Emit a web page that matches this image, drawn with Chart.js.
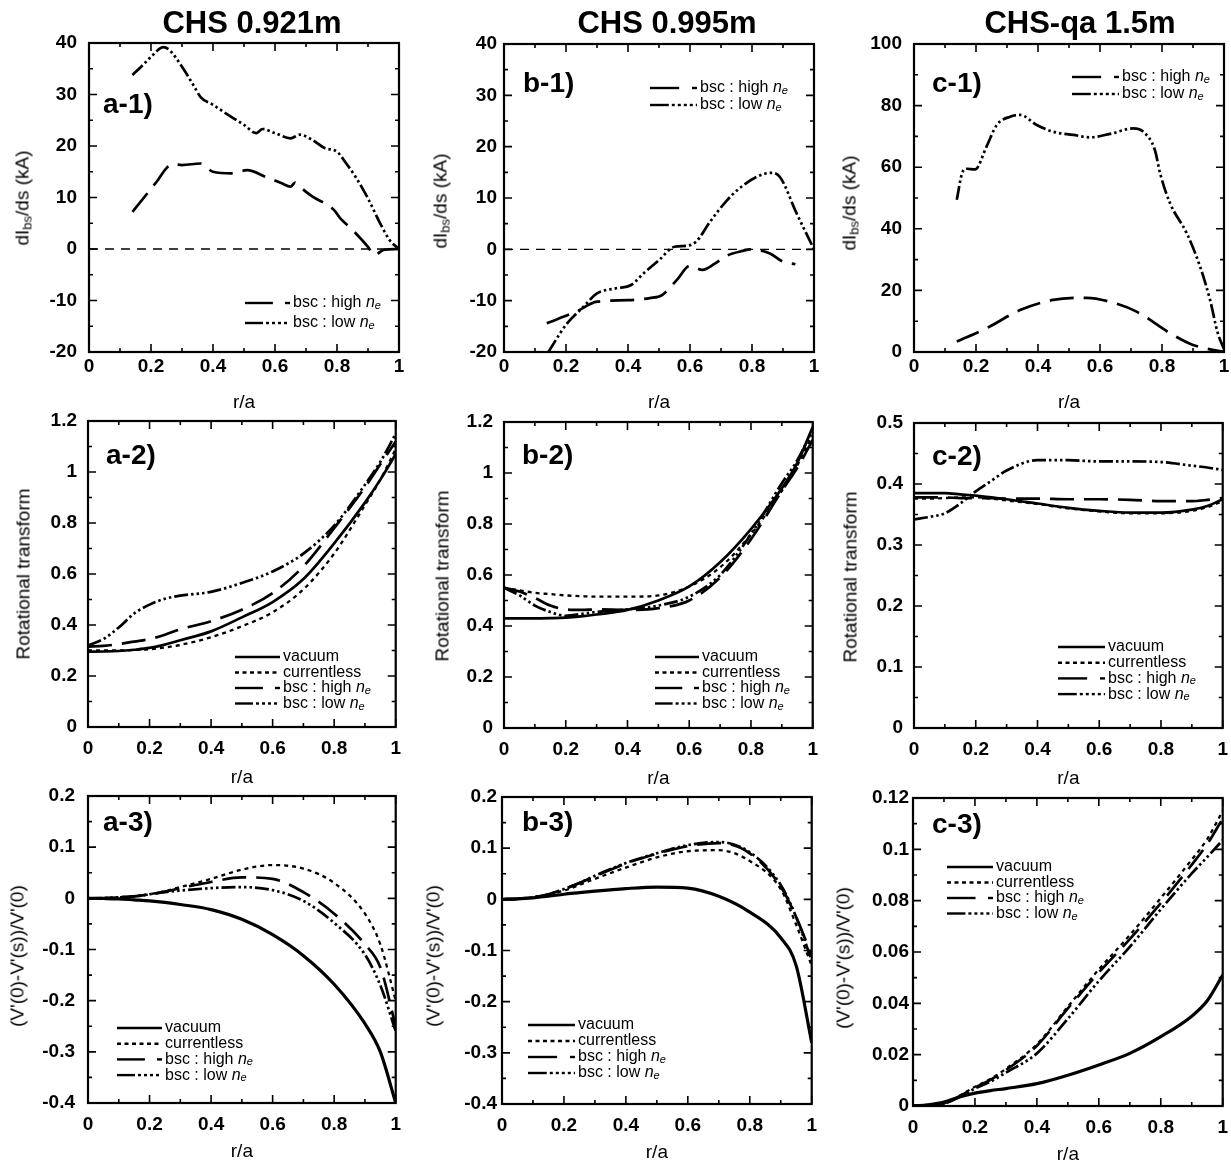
<!DOCTYPE html>
<html>
<head>
<meta charset="utf-8">
<script src="https://cdn.jsdelivr.net/npm/chart.js@4.4.1/dist/chart.umd.min.js"></script>
<style>
body { margin: 0; background: #fff; }
#page { position: relative; width: 1231px; height: 1164px; overflow: hidden;
        font-family: "Liberation Sans", Arial, sans-serif; color: #000; }
canvas { position: absolute; }
.txt { position: absolute; white-space: nowrap; transform: translate(-50%, -50%); line-height: 1; }
.col-title { font-weight: bold; font-size: 31px; }
.tag { font-weight: bold; font-size: 28px; transform: translate(0, -50%); }
.ytitle { font-size: 19px; transform: translate(-50%, -50%) rotate(-90deg); }
.ytitle sub { font-size: 13px; vertical-align: -3px; }
</style>
</head>
<body>
<div id="page"></div>
<script>
// ---- data ----
// row 1 : dIbs/ds (kA)
const a1HighX = [0.14, 0.18, 0.22, 0.25, 0.27, 0.30, 0.36, 0.40, 0.46, 0.51, 0.57, 0.62, 0.65, 0.665, 0.68, 0.72, 0.79, 0.81, 0.85, 0.90, 0.92, 0.95, 1.00];
const a1HighY = [7.2, 10.2, 13.2, 15.7, 16.5, 16.3, 16.6, 15.0, 14.7, 15.3, 14.0, 12.8, 12.1, 12.9, 12.1, 10.2, 7.6, 6.0, 3.7, 0.4, -1.2, -0.2, 0];
const a1LowX = [0.14, 0.17, 0.20, 0.24, 0.26, 0.30, 0.34, 0.36, 0.40, 0.45, 0.50, 0.54, 0.56, 0.60, 0.65, 0.68, 0.72, 0.76, 0.80, 0.83, 0.86, 0.90, 0.94, 0.97, 1.00];
const a1LowY = [33.8, 35.5, 37.3, 39.2, 38.6, 35.4, 31.5, 29.5, 28.0, 26.0, 24.1, 22.5, 23.3, 22.5, 21.5, 22.2, 21.2, 19.6, 18.9, 16.6, 14.0, 9.8, 4.9, 1.7, 0];

const b1HighX = [0.138, 0.234, 0.30, 0.40, 0.47, 0.51, 0.557, 0.60, 0.64, 0.68, 0.72, 0.77, 0.794, 0.858, 0.90, 0.94];
const b1HighY = [-14.4, -12.1, -10.2, -9.9, -9.5, -8.9, -6.0, -3.2, -4.0, -2.8, -1.2, -0.3, 0, -0.8, -2.4, -2.9];
const b1LowX = [0.143, 0.20, 0.256, 0.30, 0.36, 0.41, 0.45, 0.50, 0.55, 0.59, 0.62, 0.665, 0.72, 0.76, 0.815, 0.86, 0.89, 0.944, 1.00];
const b1LowY = [-20, -14.7, -11.2, -8.6, -7.6, -6.95, -4.7, -2.1, 0.5, 0.7, 1.5, 5.4, 9.6, 11.9, 14.1, 14.9, 14.1, 7.0, 0];

const c1HighX = [0.138, 0.234, 0.342, 0.449, 0.557, 0.632, 0.718, 0.826, 0.90, 1.00];
const c1HighY = [3.4, 7.7, 13.6, 16.9, 17.6, 16.3, 13.1, 6.1, 2.3, 0];
const c1LowX = [0.138, 0.155, 0.17, 0.197, 0.234, 0.267, 0.31, 0.342, 0.396, 0.449, 0.514, 0.568, 0.632, 0.708, 0.74, 0.777, 0.794, 0.826, 0.88, 0.923, 0.955, 0.98, 1.00];
const c1LowY = [49.4, 58.0, 59.5, 59.3, 66.7, 73.7, 76.4, 77.0, 73.7, 71.5, 70.5, 69.7, 70.8, 72.6, 71.5, 65.6, 58.0, 48.3, 38.5, 27.7, 16.9, 6.1, 1];

const zeroX = [0, 1];
const zeroY = [0, 0];

// rows 2 and 3 share one r/a grid
const rGrid = [0, 0.05, 0.1, 0.15, 0.2, 0.25, 0.3, 0.4, 0.5, 0.6, 0.7, 0.8, 0.9, 0.95, 1.0];

// row 2 : rotational transform
const a2Vacuum      = [0.295, 0.296, 0.298, 0.303, 0.31, 0.323, 0.34, 0.375, 0.43, 0.49, 0.58, 0.72, 0.88, 0.97, 1.07];
const a2Currentless = [0.30, 0.30, 0.30, 0.302, 0.305, 0.312, 0.322, 0.352, 0.395, 0.45, 0.54, 0.68, 0.87, 0.97, 1.09];
const a2High        = [0.315, 0.318, 0.325, 0.335, 0.345, 0.362, 0.383, 0.415, 0.46, 0.525, 0.63, 0.78, 0.94, 1.03, 1.12];
const a2Low         = [0.32, 0.345, 0.39, 0.445, 0.48, 0.503, 0.515, 0.53, 0.565, 0.61, 0.68, 0.79, 0.95, 1.04, 1.15];

const b2Vacuum      = [0.43, 0.43, 0.43, 0.431, 0.433, 0.438, 0.445, 0.463, 0.50, 0.555, 0.65, 0.78, 0.94, 1.04, 1.18];
const b2Currentless = [0.55, 0.54, 0.53, 0.525, 0.52, 0.517, 0.515, 0.515, 0.52, 0.555, 0.63, 0.76, 0.93, 1.03, 1.15];
const b2High        = [0.55, 0.535, 0.51, 0.48, 0.465, 0.463, 0.465, 0.463, 0.47, 0.50, 0.59, 0.74, 0.93, 1.02, 1.13];
const b2Low         = [0.55, 0.52, 0.48, 0.455, 0.44, 0.447, 0.455, 0.465, 0.48, 0.515, 0.60, 0.76, 0.96, 1.05, 1.17];

const c2Vacuum      = [0.385, 0.385, 0.385, 0.383, 0.381, 0.378, 0.375, 0.368, 0.361, 0.356, 0.353, 0.353, 0.358, 0.364, 0.375];
const c2Currentless = [0.376, 0.376, 0.377, 0.378, 0.378, 0.376, 0.373, 0.367, 0.36, 0.355, 0.352, 0.352, 0.356, 0.362, 0.372];
const c2High        = [0.378, 0.378, 0.378, 0.377, 0.377, 0.377, 0.376, 0.376, 0.375, 0.375, 0.374, 0.372, 0.372, 0.374, 0.377];
const c2Low         = [0.342, 0.346, 0.352, 0.368, 0.388, 0.405, 0.422, 0.439, 0.439, 0.437, 0.437, 0.436, 0.43, 0.427, 0.423];

// row 3 : (V'(0)-V'(s))/V'(0)
const a3Vacuum      = [0, -0.0003, -0.001, -0.003, -0.005, -0.008, -0.012, -0.022, -0.041, -0.071, -0.112, -0.168, -0.245, -0.30, -0.40];
const a3Currentless = [0, 0.0005, 0.002, 0.004, 0.008, 0.014, 0.022, 0.038, 0.056, 0.065, 0.058, 0.03, -0.03, -0.09, -0.20];
const a3High        = [0, 0.0005, 0.002, 0.004, 0.008, 0.013, 0.02, 0.032, 0.041, 0.038, 0.012, -0.03, -0.09, -0.135, -0.25];
const a3Low         = [0, 0.0005, 0.002, 0.004, 0.008, 0.012, 0.015, 0.02, 0.022, 0.016, -0.005, -0.048, -0.11, -0.17, -0.26];

const b3Vacuum      = [0, 0.001, 0.003, 0.006, 0.01, 0.013, 0.016, 0.021, 0.024, 0.022, 0.006, -0.025, -0.075, -0.13, -0.28];
const b3Currentless = [0, 0.001, 0.004, 0.009, 0.017, 0.028, 0.04, 0.062, 0.082, 0.094, 0.096, 0.075, 0.02, -0.05, -0.13];
const b3High        = [0, 0.001, 0.004, 0.01, 0.02, 0.032, 0.045, 0.07, 0.089, 0.104, 0.11, 0.09, 0.025, -0.035, -0.11];
const b3Low         = [0, 0.001, 0.004, 0.01, 0.02, 0.032, 0.046, 0.071, 0.09, 0.106, 0.112, 0.092, 0.028, -0.035, -0.12];

const c3Vacuum      = [0, 0.0005, 0.0015, 0.0035, 0.005, 0.006, 0.0068, 0.0087, 0.012, 0.016, 0.0205, 0.027, 0.035, 0.041, 0.051];
const c3Currentless = [0, 0.0004, 0.001, 0.004, 0.0075, 0.0105, 0.0145, 0.024, 0.0387, 0.0532, 0.0666, 0.081, 0.096, 0.104, 0.115];
const c3High        = [0, 0.0004, 0.001, 0.0038, 0.0072, 0.0102, 0.014, 0.0235, 0.038, 0.052, 0.065, 0.079, 0.094, 0.102, 0.112];
const c3Low         = [0, 0.0004, 0.001, 0.0035, 0.0068, 0.0095, 0.013, 0.0205, 0.034, 0.0487, 0.062, 0.0766, 0.0906, 0.097, 0.1036];

const xTicks = { min: 0, max: 1, step: 0.2 };
const colTitles = ['CHS 0.921m', 'CHS 0.995m', 'CHS-qa 1.5m'];

// ---- look ----
const FONT = '"Liberation Sans", Arial, sans-serif';
const lineStyles = {
    vacuum:      { dash: [], width: 2.7 },
    currentless: { dash: [4, 4], width: 2.3 },
    high:        { dash: [24, 10], width: 2.7 },
    low:         { dash: [14, 3, 2.5, 3, 2.5, 3, 2.5, 3], width: 2.7 },
    zero:        { dash: [9, 7], width: 1.3 }
};
const legendText = {
    vacuum: 'vacuum',
    currentless: 'currentless',
    high: 'bsc : high ',
    low: 'bsc : low '
};

function series(kind, x, y) { return { kind, x, y }; }
const all4 = (v, c, h, l) => [series('vacuum', rGrid, v), series('currentless', rGrid, c),
                              series('high', rGrid, h), series('low', rGrid, l)];

const dIlabel = 'dI<sub>bs</sub>/ds (kA)';
const iotaLabel = 'Rotational transform';
const vLabel = "(V'(0)-V'(s))/V'(0)";

const panels = [
    { tag: 'a-1)', tagPos: [103, 104], L: 89, R: 399, T: 43, B: 352, xH: 62, xPad: 3,
      y: { min: -20, max: 40, step: 10 }, yPad: 12, yt: dIlabel, ytPos: [23, 198],
      series: [series('zero', zeroX, zeroY), series('high', a1HighX, a1HighY), series('low', a1LowX, a1LowY)],
      legend: { kinds: ['high', 'low'], x0: 245, x1: 290, y: 303, dy: 20 } },
    { tag: 'b-1)', tagPos: [523, 83], L: 504, R: 814, T: 44, B: 352, xH: 62, xPad: 3,
      y: { min: -20, max: 40, step: 10 }, yPad: 7, yt: dIlabel, ytPos: [441, 201],
      series: [series('zero', zeroX, zeroY), series('high', b1HighX, b1HighY), series('low', b1LowX, b1LowY)],
      legend: { kinds: ['high', 'low'], x0: 650, x1: 697, y: 88, dy: 17 } },
    { tag: 'c-1)', tagPos: [932, 83], L: 914, R: 1224, T: 44, B: 352, xH: 62, xPad: 3,
      y: { min: 0, max: 100, step: 20 }, yPad: 12, yt: dIlabel, ytPos: [850, 203],
      series: [series('high', c1HighX, c1HighY), series('low', c1LowX, c1LowY)],
      legend: { kinds: ['high', 'low'], x0: 1072, x1: 1119, y: 77, dy: 17 } },

    { tag: 'a-2)', tagPos: [106, 455], L: 88, R: 397, T: 421, B: 727, xH: 62, xPad: 10,
      y: { min: 0, max: 1.2, step: 0.2 }, yPad: 11, yt: iotaLabel, ytPos: [23, 574],
      series: all4(a2Vacuum, a2Currentless, a2High, a2Low),
      legend: { kinds: ['vacuum', 'currentless', 'high', 'low'], x0: 235, x1: 280, y: 657, dy: 15.5 } },
    { tag: 'b-2)', tagPos: [522, 455], L: 504, R: 814, T: 422, B: 728, xH: 62, xPad: 10,
      y: { min: 0, max: 1.2, step: 0.2 }, yPad: 11, yt: iotaLabel, ytPos: [442, 576],
      series: all4(b2Vacuum, b2Currentless, b2High, b2Low),
      legend: { kinds: ['vacuum', 'currentless', 'high', 'low'], x0: 655, x1: 699, y: 657, dy: 15.5 } },
    { tag: 'c-2)', tagPos: [932, 456], L: 914, R: 1224, T: 423, B: 728, xH: 62, xPad: 10,
      y: { min: 0, max: 0.5, step: 0.1 }, yPad: 11, yt: iotaLabel, ytPos: [850, 577],
      series: all4(c2Vacuum, c2Currentless, c2High, c2Low),
      legend: { kinds: ['vacuum', 'currentless', 'high', 'low'], x0: 1058, x1: 1105, y: 647, dy: 15.7 } },

    { tag: 'a-3)', tagPos: [103, 822], L: 88, R: 397, T: 796, B: 1103, xH: 60, xPad: 10,
      y: { min: -0.4, max: 0.2, step: 0.1 }, yPad: 13, yt: vLabel, ytPos: [17, 956],
      series: all4(a3Vacuum, a3Currentless, a3High, a3Low),
      legend: { kinds: ['vacuum', 'currentless', 'high', 'low'], x0: 117, x1: 162, y: 1028, dy: 15.7 } },
    { tag: 'b-3)', tagPos: [522, 822], L: 502, R: 813, T: 797, B: 1104, xH: 60, xPad: 10,
      y: { min: -0.4, max: 0.2, step: 0.1 }, yPad: 5, yt: vLabel, ytPos: [433, 956],
      series: all4(b3Vacuum, b3Currentless, b3High, b3Low),
      legend: { kinds: ['vacuum', 'currentless', 'high', 'low'], x0: 528, x1: 575, y: 1025, dy: 16 } },
    { tag: 'c-3)', tagPos: [932, 824], L: 913, R: 1224, T: 798, B: 1106, xH: 60, xPad: 10,
      y: { min: 0, max: 0.12, step: 0.02 }, yPad: 4, yt: vLabel, ytPos: [843, 958],
      series: all4(c3Vacuum, c3Currentless, c3High, c3Low),
      legend: { kinds: ['vacuum', 'currentless', 'high', 'low'], x0: 947, x1: 993, y: 867, dy: 15.5 } }
];

const page = document.getElementById('page');
const fmt = v => String(+(+v).toFixed(6));

function addText(cls, html, x, y) {
    const d = document.createElement('div');
    d.className = 'txt ' + cls;
    d.innerHTML = html;
    d.style.left = x + 'px';
    d.style.top = y + 'px';
    page.appendChild(d);
}

// box with inward major/minor ticks on all four sides
const framePlugin = {
    id: 'frame',
    afterDraw(chart) {
        const { ctx, chartArea: a, scales } = chart;
        ctx.save();
        ctx.strokeStyle = '#000';
        ctx.lineWidth = 2.2;
        ctx.strokeRect(a.left, a.top, a.right - a.left, a.bottom - a.top);
        ctx.lineWidth = 1.6;
        const marks = (scale, draw) => {
            const vals = scale.ticks.map(t => t.value);
            const step = vals[1] - vals[0];
            vals.forEach((v, i) => {
                draw(scale.getPixelForValue(v), 8);
                if (i < vals.length - 1) draw(scale.getPixelForValue(v + step / 2), 4);
            });
        };
        ctx.beginPath();
        marks(scales.x, (px, len) => {
            ctx.moveTo(px, a.bottom); ctx.lineTo(px, a.bottom - len);
            ctx.moveTo(px, a.top); ctx.lineTo(px, a.top + len);
        });
        marks(scales.y, (py, len) => {
            ctx.moveTo(a.left, py); ctx.lineTo(a.left + len, py);
            ctx.moveTo(a.right, py); ctx.lineTo(a.right - len, py);
        });
        ctx.stroke();
        ctx.restore();
    }
};

function drawSample(ctx, kind, x0, x1, y) {
    ctx.save();
    ctx.strokeStyle = '#000';
    ctx.lineWidth = 2.4;
    const seg = (s, e, dash) => {
        ctx.setLineDash(dash || []);
        ctx.beginPath(); ctx.moveTo(s, y); ctx.lineTo(e, y); ctx.stroke();
    };
    const w = x1 - x0;
    if (kind === 'vacuum') seg(x0, x1);
    else if (kind === 'currentless') seg(x0, x1, [4, 3.5]);
    else if (kind === 'high') { seg(x0, x0 + w * 0.62); seg(x1 - 5, x1); }
    else { seg(x0, x0 + w * 0.4); seg(x0 + w * 0.4 + 3, x1, [3, 3]); }
    ctx.restore();
}

function legendPlugin(p, offX, offY) {
    return {
        id: 'inlineLegend',
        afterDraw(chart) {
            const ctx = chart.ctx;
            const lg = p.legend;
            ctx.save();
            ctx.fillStyle = '#000';
            ctx.textBaseline = 'middle';
            lg.kinds.forEach((k, i) => {
                const y = lg.y + i * lg.dy - offY;
                const x0 = lg.x0 - offX, x1 = lg.x1 - offX;
                drawSample(ctx, k, x0, x1, y);
                let tx = x1 + 3;
                ctx.font = '16px ' + FONT;
                ctx.fillText(legendText[k], tx, y);
                if (k === 'high' || k === 'low') {
                    tx += ctx.measureText(legendText[k]).width;
                    ctx.font = 'italic 16px ' + FONT;
                    ctx.fillText('n', tx, y);
                    tx += ctx.measureText('n').width;
                    ctx.font = 'italic 11px ' + FONT;
                    ctx.fillText('e', tx, y + 3);
                }
            });
            ctx.restore();
        }
    };
}

function makePanel(p) {
    const padTop = 40, padRight = 14, yAxisW = 89;
    const left = p.L - yAxisW, top = p.T - padTop;
    const w = (p.R - p.L) + yAxisW + padRight;
    const h = (p.B - p.T) + padTop + p.xH;
    const cv = document.createElement('canvas');
    cv.width = w; cv.height = h;
    cv.style.left = left + 'px'; cv.style.top = top + 'px';
    cv.style.width = w + 'px'; cv.style.height = h + 'px';
    page.appendChild(cv);

    const datasets = p.series.map(s => {
        const st = lineStyles[s.kind];
        return {
            data: s.x.map((x, i) => ({ x: x, y: s.y[i] })),
            borderColor: '#000',
            borderWidth: (s.kind === 'vacuum' && p.tag.endsWith('3)')) ? 3.2 : st.width,
            borderDash: st.dash,
            pointRadius: 0,
            fill: false,
            cubicInterpolationMode: 'monotone'
        };
    });

    new Chart(cv.getContext('2d'), {
        type: 'line',
        data: { datasets },
        options: {
            responsive: false,
            animation: false,
            events: [],
            layout: { padding: { left: 0, top: padTop, right: padRight, bottom: 0 } },
            plugins: { legend: { display: false }, tooltip: { enabled: false } },
            scales: {
                x: {
                    type: 'linear',
                    min: xTicks.min, max: xTicks.max,
                    grid: { display: false, drawTicks: false },
                    border: { display: false },
                    ticks: { stepSize: xTicks.step, padding: p.xPad, color: '#000', maxRotation: 0,
                             autoSkip: false, font: { family: FONT, size: 19, weight: 'bold' }, callback: fmt },
                    title: { display: true, text: 'r/a', color: '#000', padding: 0,
                             font: { family: FONT, size: 19 } },
                    afterFit(s) { s.height = p.xH; }
                },
                y: {
                    type: 'linear',
                    min: p.y.min, max: p.y.max,
                    grid: { display: false, drawTicks: false },
                    border: { display: false },
                    ticks: { stepSize: p.y.step, padding: p.yPad, color: '#000', autoSkip: false,
                             font: { family: FONT, size: 19, weight: 'bold' }, callback: fmt },
                    afterFit(s) { s.width = yAxisW; }
                }
            }
        },
        plugins: [framePlugin, legendPlugin(p, left, top)]
    });

    addText('tag', p.tag, p.tagPos[0], p.tagPos[1]);
    addText('ytitle', p.yt, p.ytPos[0], p.ytPos[1]);
}

panels.forEach(makePanel);
addText('col-title', colTitles[0], 252, 22);
addText('col-title', colTitles[1], 667, 22);
addText('col-title', colTitles[2], 1080, 22);
</script>
</body>
</html>
